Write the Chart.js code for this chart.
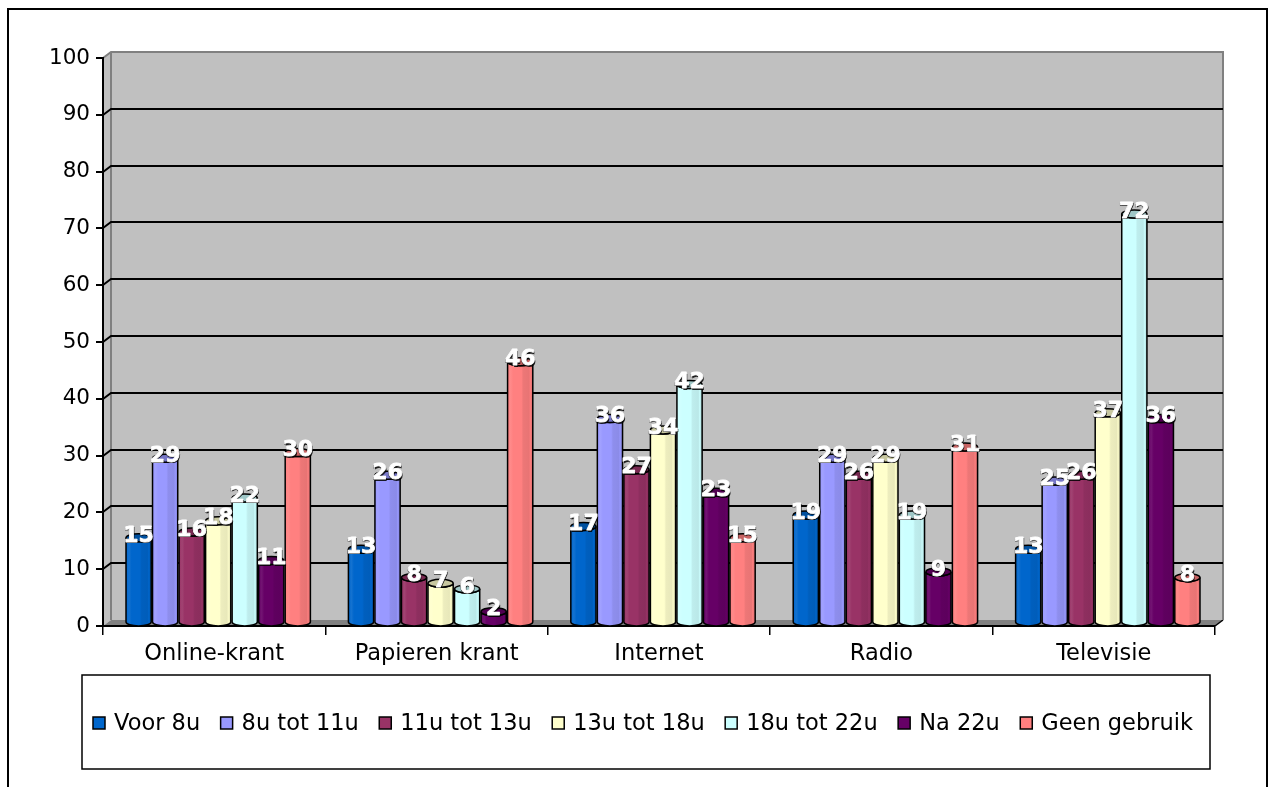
<!DOCTYPE html>
<html>
<head>
<meta charset="utf-8">
<script src="https://cdn.jsdelivr.net/npm/chart.js@4/dist/chart.umd.min.js"></script>
<style>
  html, body { margin: 0; padding: 0; background: #ffffff; }
  canvas { display: block; }
</style>
</head>
<body>
<canvas id="chart" width="1275" height="787"></canvas>
<script>
// Media usage per time of day (percent)
const categories = ['Online-krant', 'Papieren krant', 'Internet', 'Radio', 'Televisie'];
const seriesNames = ['Voor 8u', '8u tot 11u', '11u tot 13u', '13u tot 18u', '18u tot 22u', 'Na 22u', 'Geen gebruik'];
const voor8u      = [15, 13, 17, 19, 13];
const u8tot11     = [29, 26, 36, 29, 25];
const u11tot13    = [16,  8, 27, 26, 26];
const u13tot18    = [18,  7, 34, 29, 37];
const u18tot22    = [22,  6, 42, 19, 72];
const na22u       = [11,  2, 23,  9, 36];
const geenGebruik = [30, 46, 15, 31,  8];
const yTicks = [0, 10, 20, 30, 40, 50, 60, 70, 80, 90, 100];

const seriesValues = [voor8u, u8tot11, u11tot13, u13tot18, u18tot22, na22u, geenGebruik];
const seriesColors = ['#0066CC', '#9999FF', '#993366', '#FFFFCC', '#CCFFFF', '#660066', '#FF8080'];

const FONT = "'DejaVu Sans', Verdana, sans-serif";
const DEPTH_X = 8;   // depth of the 3D box, horizontal
const DEPTH_Y = 6;   // depth of the 3D box, vertical

function shade(hex, amt) {
  const n = parseInt(hex.slice(1), 16);
  let r = (n >> 16) & 255, g = (n >> 8) & 255, b = n & 255;
  const t = amt > 0 ? 255 : 0, p = Math.abs(amt);
  r = Math.round(r + (t - r) * p);
  g = Math.round(g + (t - g) * p);
  b = Math.round(b + (t - b) * p);
  return 'rgb(' + r + ',' + g + ',' + b + ')';
}

function drawCylinder(ctx, cx, topY, baseY, w, color) {
  const rx = w / 2, ry = 4;
  const x0 = cx - rx, x1 = cx + rx;
  const g = ctx.createLinearGradient(x0, 0, x1, 0);
  g.addColorStop(0, color);
  g.addColorStop(0.12, shade(color, 0.08));
  g.addColorStop(0.22, color);
  g.addColorStop(0.55, color);
  g.addColorStop(0.62, shade(color, -0.07));
  g.addColorStop(0.85, shade(color, -0.09));
  g.addColorStop(0.9, shade(color, -0.02));
  g.addColorStop(1, shade(color, -0.14));

  ctx.beginPath();
  ctx.moveTo(x0, topY);
  ctx.lineTo(x0, baseY);
  ctx.ellipse(cx, baseY, rx, ry, 0, Math.PI, 0, true);
  ctx.lineTo(x1, topY);
  ctx.ellipse(cx, topY, rx, ry, 0, 0, Math.PI, false);
  ctx.closePath();
  ctx.fillStyle = g;
  ctx.fill();
  ctx.lineWidth = 1.5;
  ctx.strokeStyle = '#000';
  ctx.stroke();

  ctx.beginPath();
  ctx.ellipse(cx, topY, rx, ry, 0, 0, Math.PI * 2);
  ctx.fillStyle = shade(color, -0.22);
  ctx.fill();
  ctx.stroke();
}

const scenePlugin = {
  id: 'scene',
  beforeDraw(chart) {
    const ctx = chart.ctx;
    const { left, right, top, bottom } = chart.chartArea;
    const ys = chart.scales.y;
    ctx.save();
    ctx.fillStyle = '#ffffff';
    ctx.fillRect(0, 0, chart.width, chart.height);

    // outer frame
    ctx.lineWidth = 2;
    ctx.strokeStyle = '#000';
    ctx.strokeRect(8, 9, 1259, 800);

    // back wall
    ctx.fillStyle = '#C0C0C0';
    ctx.fillRect(left + DEPTH_X, top - DEPTH_Y, right - left, bottom - top);
    // side wall
    ctx.beginPath();
    ctx.moveTo(left, top);
    ctx.lineTo(left + DEPTH_X, top - DEPTH_Y);
    ctx.lineTo(left + DEPTH_X, bottom - DEPTH_Y);
    ctx.lineTo(left, bottom);
    ctx.closePath();
    ctx.fillStyle = '#C0C0C0';
    ctx.fill();
    // floor
    ctx.beginPath();
    ctx.moveTo(left, bottom);
    ctx.lineTo(left + DEPTH_X, bottom - DEPTH_Y);
    ctx.lineTo(right + DEPTH_X, bottom - DEPTH_Y);
    ctx.lineTo(right, bottom);
    ctx.closePath();
    ctx.fillStyle = '#808080';
    ctx.fill();
    ctx.lineWidth = 1.5;
    ctx.strokeStyle = '#000';
    ctx.beginPath();
    ctx.moveTo(right, bottom);
    ctx.lineTo(right + DEPTH_X, bottom - DEPTH_Y);
    ctx.stroke();

    // wall edges
    ctx.strokeStyle = '#808080';
    ctx.lineWidth = 2;
    ctx.beginPath();
    ctx.moveTo(left, top);
    ctx.lineTo(left + DEPTH_X, top - DEPTH_Y);
    ctx.lineTo(right + DEPTH_X, top - DEPTH_Y);
    ctx.lineTo(right + DEPTH_X, bottom - DEPTH_Y);
    ctx.moveTo(left + DEPTH_X, top - DEPTH_Y);
    ctx.lineTo(left + DEPTH_X, bottom - DEPTH_Y);
    ctx.stroke();

    // gridlines across side and back wall
    ctx.strokeStyle = '#000';
    ctx.lineWidth = 2;
    yTicks.forEach(v => {
      if (v === yTicks[0] || v === yTicks[yTicks.length - 1]) return;
      const py = Math.round(ys.getPixelForValue(v));
      ctx.beginPath();
      ctx.moveTo(left, py);
      ctx.lineTo(left + DEPTH_X, py - DEPTH_Y);
      ctx.lineTo(right + DEPTH_X, py - DEPTH_Y);
      ctx.stroke();
    });
    ctx.restore();
  },
  beforeDatasetDraw() {
    return false;
  },
  afterDatasetsDraw(chart) {
    const ctx = chart.ctx;
    const shiftX = DEPTH_X / 2, shiftY = DEPTH_Y / 2;
    const marks = [];
    chart.data.datasets.forEach((ds, i) => {
      const meta = chart.getDatasetMeta(i);
      meta.data.forEach((el, j) => {
        marks.push({ cx: el.x + shiftX, top: el.y - shiftY, base: el.base - shiftY, w: el.width,
                     color: ds.backgroundColor, value: ds.data[j] });
      });
    });
    ctx.save();
    marks.forEach(m => drawCylinder(ctx, m.cx, m.top, m.base, m.w, m.color));
    ctx.font = 'bold 22px ' + FONT;
    ctx.textAlign = 'center';
    ctx.textBaseline = 'middle';
    ctx.lineJoin = 'round';
    marks.forEach(m => {
      const s = String(m.value), tx = m.cx, ty = m.top - 2;
      ctx.fillStyle = 'rgba(0,0,0,0.85)';
      ctx.fillText(s, tx + 1, ty + 1.5);
      ctx.fillText(s, tx - 0.5, ty + 1);
      ctx.lineWidth = 0.8;
      ctx.strokeStyle = '#ffffff';
      ctx.strokeText(s, tx, ty);
      ctx.fillStyle = '#ffffff';
      ctx.fillText(s, tx, ty);
    });
    ctx.restore();
  },
  afterDraw(chart) {
    const ctx = chart.ctx;
    ctx.save();
    // legend frame
    const boxL = 82, boxT = 675, boxR = 1210, boxB = 769;
    ctx.lineWidth = 1.5;
    ctx.strokeStyle = '#000';
    ctx.strokeRect(boxL, boxT, boxR - boxL, boxB - boxT);
    ctx.font = '22.5px ' + FONT;
    ctx.textBaseline = 'middle';
    ctx.textAlign = 'left';
    const sq = 12, gapText = 9;
    const items = chart.data.datasets.map(ds => ({
      label: ds.label, color: ds.backgroundColor, w: ctx.measureText(ds.label).width
    }));
    const start = 93, end = 1193;
    const total = items.reduce((s, it) => s + sq + gapText + it.w, 0);
    const gap = (end - start - total) / (items.length - 1);
    const cy = 723;
    let x = start;
    items.forEach(it => {
      ctx.fillStyle = it.color;
      ctx.fillRect(x, cy - sq / 2, sq, sq);
      ctx.lineWidth = 1.5;
      ctx.strokeStyle = '#000';
      ctx.strokeRect(x, cy - sq / 2, sq, sq);
      ctx.fillStyle = '#000';
      ctx.fillText(it.label, x + sq + gapText, cy + 1);
      x += sq + gapText + it.w + gap;
    });
    ctx.restore();
  }
};

const chart = new Chart(document.getElementById('chart'), {
  type: 'bar',
  data: {
    labels: categories,
    datasets: seriesNames.map((name, i) => ({
      label: name,
      data: seriesValues[i],
      backgroundColor: seriesColors[i],
      borderColor: '#000',
      borderWidth: 1,
      categoryPercentage: 0.835,
      barPercentage: 0.95
    }))
  },
  options: {
    responsive: false,
    animation: false,
    events: [],
    layout: { padding: { left: 0, right: 60, top: 58, bottom: 121 } },
    plugins: {
      legend: { display: false },
      tooltip: { enabled: false }
    },
    scales: {
      x: {
        grid: { display: true, drawOnChartArea: false, drawTicks: true, tickLength: 9,
                color: '#000', lineWidth: 1.5, offset: true },
        border: { display: true, color: '#000', width: 2 },
        ticks: { color: '#000', font: { family: FONT, size: 22.5 }, padding: 6, maxRotation: 0 },
        afterFit(scale) { scale.height = 40; }
      },
      y: {
        min: 0,
        max: 100,
        afterBuildTicks(scale) { scale.ticks = yTicks.map(v => ({ value: v })); },
        grid: { display: true, drawOnChartArea: false, drawTicks: true, tickLength: 7,
                color: '#000', lineWidth: 2 },
        border: { display: true, color: '#000', width: 2 },
        ticks: { color: '#000', font: { family: FONT, size: 21.5 }, padding: 6 },
        afterFit(scale) { scale.width = 103; }
      }
    }
  },
  plugins: [scenePlugin]
});
</script>
</body>
</html>
